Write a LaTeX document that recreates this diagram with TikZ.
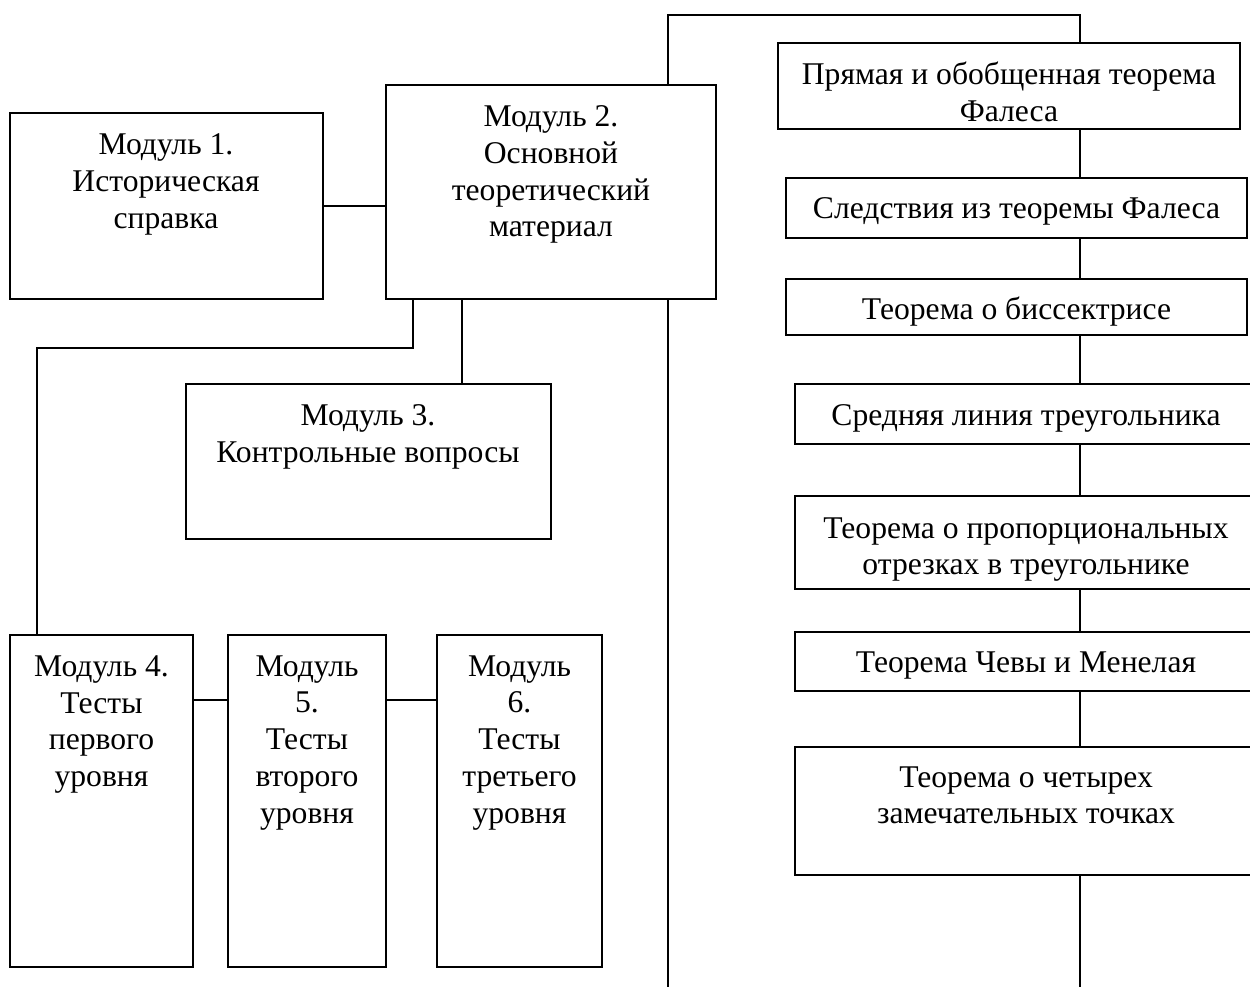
\documentclass[tikz,border=0pt]{standalone}
\usepackage{fontspec}
\setmainfont{Liberation Serif}
\usetikzlibrary{fit}
\begin{document}
\begin{tikzpicture}[x=0.02cm,y=-0.02cm,
  box/.style={draw,line width=1.1pt,inner sep=0pt,rectangle},
  txt/.style={anchor=north,align=center,inner sep=0pt,font=\fontsize{18}{21}\selectfont},
  conn/.style={line width=0.9pt}]
\useasboundingbox (0,0) rectangle (1250,989);
\clip (0,0) rectangle (1250,989);
% left part
\node[box,fit={(10,113) (323,299)}] (m1) {};
\node[txt] (m1t) at (166,133) {Модуль 1.\\Историческая\\справка};
\node[box,fit={(386,85) (716,299)}] (m2) {};
\node[txt] (m2t) at (551,105) {Модуль 2.\\Основной\\теоретический\\материал};
\node[box,fit={(186,384) (551,539)}] (m3) {};
\node[txt] (m3t) at (368,404) {Модуль 3.\\Контрольные вопросы};
\node[box,fit={(10,635) (193,967)}] (m4) {};
\node[txt] (m4t) at (101.5,655) {Модуль 4.\\Тесты\\первого\\уровня};
\node[box,fit={(228,635) (386,967)}] (m5) {};
\node[txt] (m5t) at (307,655) {Модуль\\5.\\Тесты\\второго\\уровня};
\node[box,fit={(437,635) (602,967)}] (m6) {};
\node[txt] (m6t) at (519.5,655) {Модуль\\6.\\Тесты\\третьего\\уровня};
% right column
\node[box,fit={(778,43) (1240,129)}] (ta) {};
\node[txt] (tat) at (1009,62) {Прямая и обобщенная теорема\\Фалеса};
\node[box,fit={(786,178) (1247,238)}] (tb) {};
\node[txt] (tbt) at (1016.5,197) {Следствия из теоремы Фалеса};
\node[box,fit={(786,279) (1247,335)}] (tc) {};
\node[txt] (tct) at (1016.5,297) {Теорема о биссектрисе};
\node[box,fit={(795,384) (1258,444)}] (td) {};
\node[txt] (tdt) at (1026,404) {Средняя линия треугольника};
\node[box,fit={(795,496) (1258,589)}] (te) {};
\node[txt] (tet) at (1026,517) {Теорема о пропорциональных\\отрезках в треугольнике};
\node[box,fit={(795,632) (1258,691)}] (tf) {};
\node[txt] (tft) at (1026,651) {Теорема Чевы и Менелая};
\node[box,fit={(795,747) (1258,875)}] (tg) {};
\node[txt] (tgt) at (1026,766) {Теорема о четырех\\замечательных точках};
% junction coordinates
\coordinate (p1) at (413,348);
\coordinate (p2) at (37,348);
\coordinate (p3) at (462,384);
\coordinate (p4) at (0,700);
\coordinate (t1) at (668,15);
\coordinate (t2) at (1080,15);
\coordinate (e1) at (668,987);
\coordinate (e2) at (1080,987);
% connectors
\draw[conn] (m1.east) -- (m2.west |- m1.east);
\draw[conn] (m2.south -| p1) -- (p1) -- (p2) -- (m4.north -| p2);
\draw[conn] (m2.south -| p3) -- (m3.north -| p3);
\draw[conn] (m4.east |- p4) -- (m5.west |- p4);
\draw[conn] (m5.east |- p4) -- (m6.west |- p4);
\draw[conn] (m2.north -| t1) -- (t1) -- (t2) -- (ta.north -| t2);
\draw[conn] (m2.south -| t1) -- (e1);
\draw[conn] (ta.south -| t2) -- (tb.north -| t2);
\draw[conn] (tb.south -| t2) -- (tc.north -| t2);
\draw[conn] (tc.south -| t2) -- (td.north -| t2);
\draw[conn] (td.south -| t2) -- (te.north -| t2);
\draw[conn] (te.south -| t2) -- (tf.north -| t2);
\draw[conn] (tf.south -| t2) -- (tg.north -| t2);
\draw[conn] (tg.south -| t2) -- (e2);
\end{tikzpicture}
\end{document}
